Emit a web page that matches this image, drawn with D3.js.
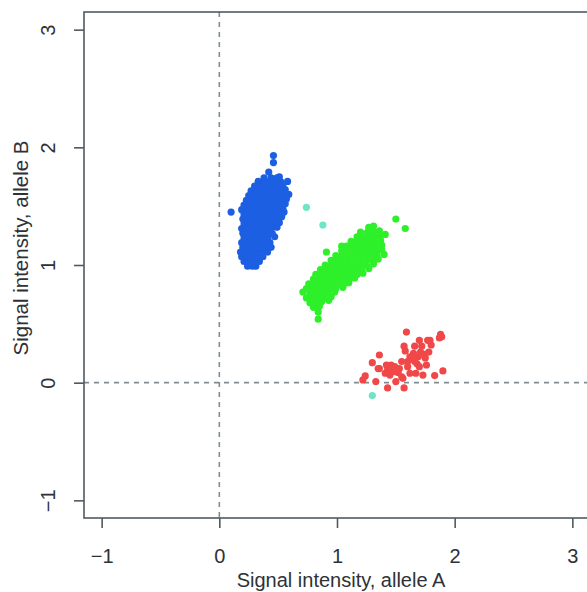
<!DOCTYPE html>
<html>
<head>
<meta charset="utf-8">
<script src="https://cdn.jsdelivr.net/npm/d3@7"></script>
<style>
  body { margin: 0; background: #fff; }
  text { font-family: "Liberation Sans", Arial, sans-serif; fill: #2e3236; }
</style>
</head>
<body>
<div id="chart"></div>
<script>
// axis ticks
var xTicks = [-1, 0, 1, 2, 3];
var yTicks = [-1, 0, 1, 2, 3];

// genotype clusters, [allele A, allele B]
var blueBB = [
  [0.24,0.99],[0.28,0.99],[0.31,0.99],
  [0.21,1.03],[0.26,1.03],[0.30,1.03],[0.34,1.03],
  [0.19,1.07],[0.24,1.07],[0.29,1.07],[0.33,1.07],[0.37,1.07],
  [0.18,1.11],[0.23,1.11],[0.28,1.11],[0.32,1.11],[0.36,1.11],[0.41,1.11],
  [0.20,1.15],[0.25,1.15],[0.30,1.15],[0.35,1.15],[0.40,1.15],[0.44,1.15],
  [0.19,1.19],[0.24,1.19],[0.29,1.19],[0.34,1.19],[0.39,1.19],[0.43,1.19],
  [0.21,1.23],[0.26,1.23],[0.31,1.23],[0.36,1.23],[0.41,1.23],[0.47,1.24],
  [0.20,1.27],[0.25,1.27],[0.30,1.27],[0.35,1.27],[0.40,1.27],[0.45,1.27],
  [0.19,1.31],[0.24,1.31],[0.29,1.31],[0.34,1.31],[0.39,1.31],[0.44,1.31],[0.49,1.32],
  [0.21,1.35],[0.26,1.35],[0.31,1.35],[0.36,1.35],[0.41,1.35],[0.46,1.35],[0.51,1.36],
  [0.20,1.39],[0.25,1.39],[0.30,1.39],[0.35,1.39],[0.40,1.39],[0.45,1.39],[0.50,1.39],[0.53,1.41],
  [0.21,1.43],[0.26,1.43],[0.31,1.43],[0.36,1.43],[0.41,1.43],[0.46,1.43],[0.51,1.43],[0.55,1.45],
  [0.19,1.47],[0.24,1.47],[0.29,1.47],[0.34,1.47],[0.39,1.47],[0.44,1.47],[0.49,1.47],[0.54,1.48],
  [0.21,1.51],[0.26,1.51],[0.31,1.51],[0.36,1.51],[0.41,1.51],[0.46,1.51],[0.51,1.51],[0.56,1.52],
  [0.23,1.55],[0.28,1.55],[0.33,1.55],[0.38,1.55],[0.43,1.55],[0.48,1.55],[0.53,1.55],[0.57,1.56],
  [0.25,1.59],[0.30,1.59],[0.35,1.59],[0.40,1.59],[0.45,1.59],[0.50,1.59],[0.55,1.59],[0.59,1.60],
  [0.27,1.63],[0.32,1.63],[0.37,1.63],[0.42,1.63],[0.47,1.63],[0.52,1.63],[0.56,1.64],
  [0.30,1.67],[0.35,1.67],[0.40,1.67],[0.45,1.67],[0.50,1.67],[0.54,1.67],
  [0.33,1.71],[0.38,1.71],[0.43,1.71],[0.48,1.71],[0.52,1.71],
  [0.38,1.74],[0.44,1.74],[0.49,1.74],[0.58,1.71],[0.51,1.75],
  [0.42,1.79],[0.46,1.87],[0.46,1.93],[0.10,1.45]
];

var greenAB = [
  [0.84,0.54],[0.84,0.60],
  [0.80,0.64],[0.85,0.65],
  [0.77,0.68],[0.82,0.68],[0.87,0.69],[0.93,0.70],
  [0.74,0.72],[0.79,0.72],[0.84,0.72],[0.89,0.72],[0.95,0.73],
  [0.71,0.77],[0.77,0.76],[0.82,0.76],[0.87,0.76],[0.92,0.76],[0.98,0.77],
  [0.74,0.80],[0.79,0.80],[0.84,0.80],[0.89,0.80],[0.94,0.80],[0.99,0.80],[1.05,0.81],
  [0.76,0.84],[0.81,0.84],[0.86,0.84],[0.91,0.84],[0.96,0.84],[1.01,0.84],[1.06,0.84],[1.10,0.85],
  [0.80,0.88],[0.85,0.88],[0.90,0.88],[0.95,0.88],[1.00,0.88],[1.05,0.88],[1.10,0.88],[1.15,0.89],
  [0.82,0.92],[0.87,0.92],[0.92,0.92],[0.97,0.92],[1.02,0.92],[1.07,0.92],[1.12,0.92],[1.17,0.92],[1.22,0.93],
  [0.86,0.96],[0.91,0.96],[0.96,0.96],[1.01,0.96],[1.06,0.96],[1.11,0.96],[1.16,0.96],[1.21,0.96],[1.27,0.97],
  [0.90,1.00],[0.95,1.00],[1.00,1.00],[1.05,1.00],[1.10,1.00],[1.15,1.00],[1.20,1.00],[1.25,1.00],[1.31,1.01],
  [0.95,1.04],[1.00,1.04],[1.05,1.04],[1.10,1.04],[1.15,1.04],[1.20,1.04],[1.25,1.04],[1.30,1.04],[1.35,1.05],
  [0.99,1.08],[1.04,1.08],[1.09,1.08],[1.14,1.08],[1.19,1.08],[1.24,1.08],[1.29,1.08],[1.34,1.08],[1.40,1.09],
  [0.91,1.11],[1.04,1.12],[1.09,1.12],[1.14,1.12],[1.19,1.12],[1.24,1.12],[1.29,1.12],[1.34,1.12],[1.38,1.13],
  [1.04,1.16],[1.08,1.16],[1.13,1.16],[1.18,1.16],[1.23,1.16],[1.28,1.16],[1.33,1.16],[1.38,1.17],
  [1.12,1.20],[1.17,1.20],[1.22,1.20],[1.27,1.20],[1.32,1.20],[1.37,1.21],
  [1.17,1.24],[1.22,1.24],[1.27,1.24],[1.32,1.24],[1.37,1.25],[1.41,1.26],
  [1.20,1.28],[1.26,1.28],[1.31,1.28],[1.36,1.29],
  [1.27,1.32],[1.31,1.33],
  [1.50,1.39],[1.58,1.31]
];

var redAA = [
  [1.59,0.43],[1.88,0.41],[1.87,0.38],[1.89,0.39],[1.79,0.36],[1.77,0.36],[1.70,0.36],
  [1.57,0.31],[1.66,0.31],[1.72,0.31],[1.80,0.32],[1.78,0.26],[1.71,0.26],[1.65,0.25],
  [1.36,0.235],[1.62,0.22],[1.69,0.22],[1.75,0.21],[1.60,0.18],[1.66,0.18],[1.55,0.18],
  [1.30,0.17],[1.42,0.15],[1.46,0.15],[1.49,0.136],[1.53,0.12],[1.60,0.136],[1.70,0.136],
  [1.76,0.15],[1.36,0.12],[1.43,0.108],[1.48,0.094],[1.52,0.085],[1.62,0.08],[1.67,0.08],
  [1.73,0.065],[1.90,0.10],[1.83,0.06],[1.45,0.065],[1.41,0.08],[1.24,0.057],[1.22,0.023],
  [1.33,0.01],[1.50,0.009],[1.56,0.037],[1.43,-0.045],[1.57,-0.045],[1.35,0.12],[1.64,0.20],
  [1.58,0.27],[1.68,0.16],[1.74,0.24],[1.47,0.11],[1.55,0.05]
];

var cyanNC = [[0.74,1.49],[0.88,1.34],[1.30,-0.11]];

var width = 587, height = 592;
var margin = { top: 12, right: -3, bottom: 74, left: 84 };

var svg = d3.select("#chart").append("svg")
    .attr("width", width)
    .attr("height", height);

var x = d3.scaleLinear().domain([-1.15, 3.15]).range([margin.left, width - margin.right]);
var y = d3.scaleLinear().domain([-1.15, 3.15]).range([height - margin.bottom, margin.top]);

var axisColor = "#4f5b61";

// reference lines
svg.append("line")
    .attr("x1", x(0)).attr("x2", x(0))
    .attr("y1", y(3.15)).attr("y2", y(-1.15))
    .attr("stroke", "#808c92").attr("stroke-width", 1.6)
    .attr("stroke-dasharray", "5,5");
svg.append("line")
    .attr("x1", x(-1.15)).attr("x2", x(3.15))
    .attr("y1", y(0)).attr("y2", y(0))
    .attr("stroke", "#808c92").attr("stroke-width", 1.6)
    .attr("stroke-dasharray", "5,5");

function drawPoints(data, color) {
  svg.append("g").selectAll("circle")
      .data(data)
      .enter().append("circle")
        .attr("cx", function(d) { return x(d[0]); })
        .attr("cy", function(d) { return y(d[1]); })
        .attr("r", 3.6)
        .style("fill", color);
}
drawPoints(blueBB, "#1c5fe2");
drawPoints(greenAB, "#2ef02a");
drawPoints(redAA, "#f04848");
drawPoints(cyanNC, "#6ee6c6");

// box
svg.append("rect")
    .attr("x", x(-1.15)).attr("y", y(3.15))
    .attr("width", x(3.15) - x(-1.15))
    .attr("height", y(-1.15) - y(3.15))
    .attr("fill", "none")
    .attr("stroke", axisColor).attr("stroke-width", 1.6);

var fmt = d3.format("d");

var xAxis = svg.append("g")
    .attr("transform", "translate(0," + y(-1.15) + ")")
    .call(d3.axisBottom(x).tickValues(xTicks).tickFormat(fmt).tickSize(10).tickSizeOuter(0));
xAxis.select(".domain").remove();
xAxis.selectAll(".tick line").attr("stroke", axisColor).attr("stroke-width", 1.6);
xAxis.selectAll(".tick text")
    .attr("y", 45).attr("dy", 0)
    .style("font-size", "20px");

var yAxis = svg.append("g")
    .attr("transform", "translate(" + x(-1.15) + ",0)")
    .call(d3.axisLeft(y).tickValues(yTicks).tickFormat(fmt).tickSize(10).tickSizeOuter(0));
yAxis.select(".domain").remove();
yAxis.selectAll(".tick line").attr("stroke", axisColor).attr("stroke-width", 1.6);
yAxis.selectAll(".tick text")
    .attr("x", 0).attr("dy", 0)
    .attr("text-anchor", "middle")
    .attr("transform", "translate(-29,0) rotate(-90)")
    .style("font-size", "20px");

svg.append("text")
    .attr("x", (x(-1.15) + x(3.15)) / 2 + 4)
    .attr("y", 587)
    .attr("text-anchor", "middle")
    .style("font-size", "20px")
    .text("Signal intensity, allele A");

svg.append("text")
    .attr("transform", "translate(28,248) rotate(-90)")
    .attr("text-anchor", "middle")
    .style("font-size", "20.5px")
    .text("Signal intensity, allele B");
</script>
</body>
</html>
